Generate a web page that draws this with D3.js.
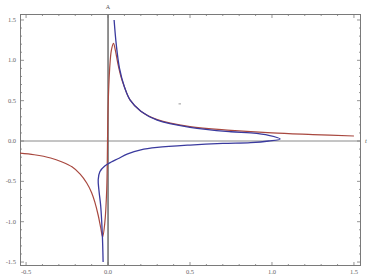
<!DOCTYPE html>
<html><head><meta charset="utf-8">
<script src="https://cdn.jsdelivr.net/npm/d3@7"></script>
<style>body{margin:0;background:#fff}svg{display:block}</style>
</head><body>
<script>
// tick labels
const xTicks = [-0.5, 0.0, 0.5, 1.0, 1.5];
const yTicks = [-1.5, -1.0, -0.5, 0.0, 0.5, 1.0, 1.5];
const xLabels = ["-0.5", "0.0", "0.5", "1.0", "1.5"];
const yLabels = ["-1.5", "-1.0", "-0.5", "0.0", "0.5", "1.0", "1.5"];
// red series
const redX = [-0.54, -0.45, -0.35, -0.28, -0.22, -0.17, -0.13, -0.1, -0.08, -0.06, -0.045, -0.033, -0.02, -0.008, 0.0, 0.01, 0.02, 0.033, 0.045, 0.06, 0.08, 0.1, 0.134, 0.2, 0.3, 0.5, 0.75, 1.0, 1.25, 1.5];
const redY = [-0.15, -0.17, -0.21, -0.26, -0.32, -0.41, -0.52, -0.64, -0.76, -0.92, -1.07, -1.19, -1.02, -0.6, 0.4, 0.9, 1.12, 1.21, 1.12, 0.96, 0.79, 0.67, 0.51, 0.37, 0.265, 0.178, 0.132, 0.1, 0.08, 0.062];
// blue series (parametric, in drawing order)
const blueX = [0.037, 0.05, 0.07, 0.1, 0.134, 0.2, 0.3, 0.5, 0.75, 0.87, 0.98, 1.05, 0.98, 0.87, 0.7, 0.5, 0.3, 0.2, 0.12, 0.06, 0.02, -0.02, -0.05, -0.06, -0.055, -0.045, -0.035, -0.03];
const blueY = [1.5, 1.2, 0.9, 0.67, 0.51, 0.37, 0.26, 0.17, 0.115, 0.1, 0.07, 0.025, 0.0, -0.02, -0.03, -0.05, -0.08, -0.11, -0.16, -0.22, -0.26, -0.31, -0.38, -0.48, -0.62, -0.8, -1.15, -1.5];
// annotations
const topLabel = "A", rightLabel = "t";

const W = 370, H = 277;
const svg = d3.select("body").append("svg").attr("width", W).attr("height", H);
const x = d3.scaleLinear().domain([-0.537, 1.543]).range([20, 361]);
const y = d3.scaleLinear().domain([-1.549, 1.574]).range([266, 14]);

svg.append("clipPath").attr("id","c").append("rect")
  .attr("x",20).attr("y",14).attr("width",341).attr("height",252);

const g = svg.append("g");
// axes through origin
g.append("line").attr("x1",x.range()[0]).attr("x2",x.range()[1]).attr("y1",y(0)).attr("y2",y(0))
  .attr("stroke","#8a8a8a").attr("stroke-width",1);
g.append("line").attr("x1",x(0)).attr("x2",x(0)).attr("y1",y.range()[0]).attr("y2",y.range()[1])
  .attr("stroke","#555").attr("stroke-width",1.3);

// frame with ticks
const minorX = d3.range(-5, 16).map(i => i/10);
const minorY = d3.range(-15, 16).map(i => i/10);
const fc = "#7a7a7a";
function isMajor(v){return Math.abs(v*2 - Math.round(v*2)) < 1e-6;}
g.append("rect").attr("x",20.5).attr("y",14.5).attr("width",340).attr("height",251)
  .attr("fill","none").attr("stroke",fc).attr("stroke-width",1);
const tk = g.append("g").attr("stroke",fc).attr("stroke-width",0.8);
minorX.forEach(v => {
  const L = isMajor(v) ? 4 : 2;
  tk.append("line").attr("x1",x(v)).attr("x2",x(v)).attr("y1",266).attr("y2",266-L);
  tk.append("line").attr("x1",x(v)).attr("x2",x(v)).attr("y1",14).attr("y2",14+L);
});
minorY.forEach(v => {
  const L = isMajor(v) ? 4 : 2;
  tk.append("line").attr("y1",y(v)).attr("y2",y(v)).attr("x1",20).attr("x2",20+L);
  tk.append("line").attr("y1",y(v)).attr("y2",y(v)).attr("x1",361).attr("x2",361-L);
});
const font = "Liberation Serif, DejaVu Serif, serif";
xTicks.forEach((v,i) => {
  g.append("text").attr("x",x(v)).attr("y",274).attr("text-anchor","middle")
   .attr("font-family",font).attr("font-size",6.5).attr("fill","#666").text(xLabels[i]);
});
yTicks.forEach((v,i) => {
  g.append("text").attr("x",16).attr("y",y(v)+2).attr("text-anchor","end")
   .attr("font-family",font).attr("font-size",6.5).attr("fill","#666").text(yLabels[i]);
});
g.append("text").attr("x",x(0)).attr("y",9).attr("text-anchor","middle")
 .attr("font-family",font).attr("font-size",6).attr("fill","#555").text(topLabel);
g.append("text").attr("x",366).attr("y",y(0)+2).attr("text-anchor","middle")
 .attr("font-family",font).attr("font-style","italic").attr("font-size",6.5).attr("fill","#555").text(rightLabel);
// small stray mark
g.append("line").attr("x1",x(0.43)).attr("x2",x(0.445)).attr("y1",y(0.46)).attr("y2",y(0.46))
 .attr("stroke","#999").attr("stroke-width",1);

const line = d3.line().x(d=>x(d[0])).y(d=>y(d[1])).curve(d3.curveCatmullRom.alpha(0.5));
const plot = g.append("g").attr("clip-path","url(#c)");
plot.append("path").datum(redX.map((v,i)=>[v,redY[i]])).attr("d",line)
  .attr("fill","none").attr("stroke","#a8483f").attr("stroke-width",1.2);
plot.append("path").datum(blueX.map((v,i)=>[v,blueY[i]])).attr("d",line)
  .attr("fill","none").attr("stroke","#3a3a9e").attr("stroke-width",1.3);
</script>
</body></html>
